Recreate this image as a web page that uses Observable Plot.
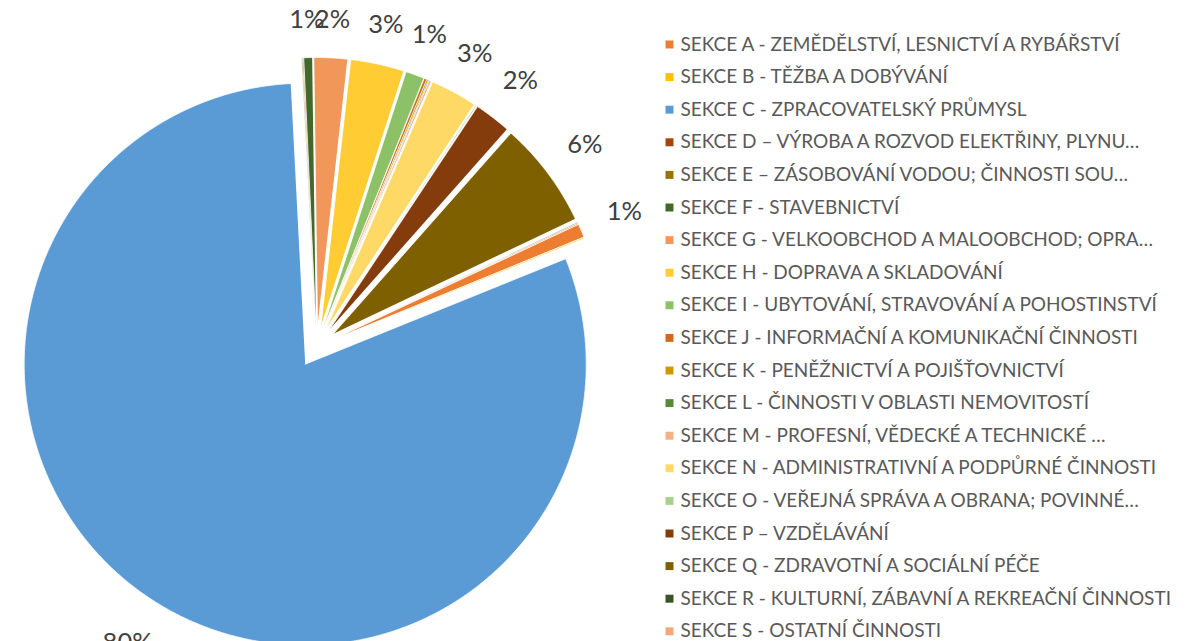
<!DOCTYPE html>
<html><head><meta charset="utf-8">
<script src="https://cdn.jsdelivr.net/npm/d3@7"></script>
<script src="https://cdn.jsdelivr.net/npm/@observablehq/plot@0.6"></script>
<style>
body{margin:0;background:#fff}
#chart{width:1201px;height:641px;overflow:hidden}
</style>
</head><body><div id="chart"></div>
<script>
// ---- data ----
const keys = ["A","B","C","D","E","F","G","H","I","J","K","L","M","N","O","P","Q","R","S"];
const sectionLabels = [
  "SEKCE A - ZEMĚDĚLSTVÍ, LESNICTVÍ A RYBÁŘSTVÍ",
  "SEKCE B - TĚŽBA A DOBÝVÁNÍ",
  "SEKCE C - ZPRACOVATELSKÝ PRŮMYSL",
  "SEKCE D – VÝROBA A ROZVOD ELEKTŘINY, PLYNU…",
  "SEKCE E – ZÁSOBOVÁNÍ VODOU; ČINNOSTI SOU…",
  "SEKCE F - STAVEBNICTVÍ",
  "SEKCE G - VELKOOBCHOD A MALOOBCHOD; OPRA…",
  "SEKCE H - DOPRAVA A SKLADOVÁNÍ",
  "SEKCE I - UBYTOVÁNÍ, STRAVOVÁNÍ A POHOSTINSTVÍ",
  "SEKCE J - INFORMAČNÍ A KOMUNIKAČNÍ ČINNOSTI",
  "SEKCE K - PENĚŽNICTVÍ A POJIŠŤOVNICTVÍ",
  "SEKCE L - ČINNOSTI V OBLASTI NEMOVITOSTÍ",
  "SEKCE M - PROFESNÍ, VĚDECKÉ A TECHNICKÉ …",
  "SEKCE N - ADMINISTRATIVNÍ A PODPŮRNÉ ČINNOSTI",
  "SEKCE O - VEŘEJNÁ SPRÁVA A OBRANA; POVINNÉ…",
  "SEKCE P – VZDĚLÁVÁNÍ",
  "SEKCE Q - ZDRAVOTNÍ A SOCIÁLNÍ PÉČE",
  "SEKCE R - KULTURNÍ, ZÁBAVNÍ A REKREAČNÍ ČINNOSTI",
  "SEKCE S - OSTATNÍ ČINNOSTI"
];
const shares = [0.8, 0.05, 80.3, 0.05, 0.05, 0.5, 2.0, 3.2, 1.1, 0.15, 0.1, 0.05, 0.1, 2.8, 0.05, 2.2, 6.4, 0.05, 0.05];
const colors = ["#ED7D31","#FFC000","#5B9BD5","#9E480E","#997300","#43682B","#F1975A","#FFCD33","#8CC168",
                "#D2691E","#CC9A00","#5A8A39","#F4B183","#FFD966","#A9D18E","#843C0C","#7F6000","#375623","#F4A87A"];

// ---- geometry ----
const W = 1201, H = 641;
const cx = 316, cy = 346, explode = 21, rBig = 281, rSmall = 268, startDeg = 64.9;
const labelFont = 25.5, legendFont = 19;
const rad = Math.PI / 180;
const total = d3.sum(shares);

let acc = 0;
const slices = shares.map((v, i) => {
  const a0 = startDeg + acc / total * 360;
  acc += v;
  const a1 = startDeg + acc / total * 360;
  const mid = (a0 + a1) / 2;
  const ux = Math.sin(mid * rad), uy = -Math.cos(mid * rad);
  const r = keys[i] === "C" ? rBig : rSmall;
  return {key: keys[i], v, a0, a1, mid, ux, uy, r, ax: cx + explode * ux, ay: cy + explode * uy};
});

const points = [];
for (const s of slices) {
  if (s.v <= 0) continue;
  points.push({key: s.key, x: s.ax, y: s.ay});
  const n = Math.max(2, Math.ceil((s.a1 - s.a0) / 0.25));
  for (let k = 0; k <= n; k++) {
    const a = (s.a0 + (s.a1 - s.a0) * k / n) * rad;
    points.push({key: s.key, x: s.ax + s.r * Math.sin(a), y: s.ay - s.r * Math.cos(a)});
  }
}

const pctLabels = slices
  .map(s => ({...s, text: Math.round(s.v / total * 100) + "%"}))
  .filter(s => Math.round(s.v / total * 100) >= 1)
  .map(s => {
    const w = s.text.length * 0.69 * labelFont, h = 0.78 * labelFont;
    const d = s.r + 27 + Math.abs(s.ux) * w / 2 + Math.abs(s.uy) * h / 2;
    return {text: s.text, x: s.ax + d * s.ux, y: s.ay + d * s.uy};
  });

const legendTop = 44, legendStep = 32.6;
const legend = keys.map((k, i) => ({key: k, label: sectionLabels[i], y: legendTop + i * legendStep}));

const chart = Plot.plot({
  width: W, height: H, margin: 0,
  x: {type: "identity", axis: null},
  y: {type: "identity", axis: null},
  color: {domain: keys, range: colors},
  style: {fontFamily: "Lato, 'Open Sans', sans-serif", background: "#fff"},
  marks: [
    Plot.line(points, {x: "x", y: "y", z: "key", fill: "key", stroke: "#fff", strokeWidth: 0.75}),
    Plot.text(pctLabels, {x: "x", y: "y", text: "text", fontSize: labelFont, fill: "#404040"}),
    Plot.dot(legend, {x: 669, y: "y", symbol: "square", r: 4.5, fill: "key"}),
    Plot.text(legend, {x: 680, y: "y", text: "label", textAnchor: "start", fontSize: legendFont, fill: "#595959"})
  ]
});
document.getElementById("chart").appendChild(chart);
</script>
</body></html>
